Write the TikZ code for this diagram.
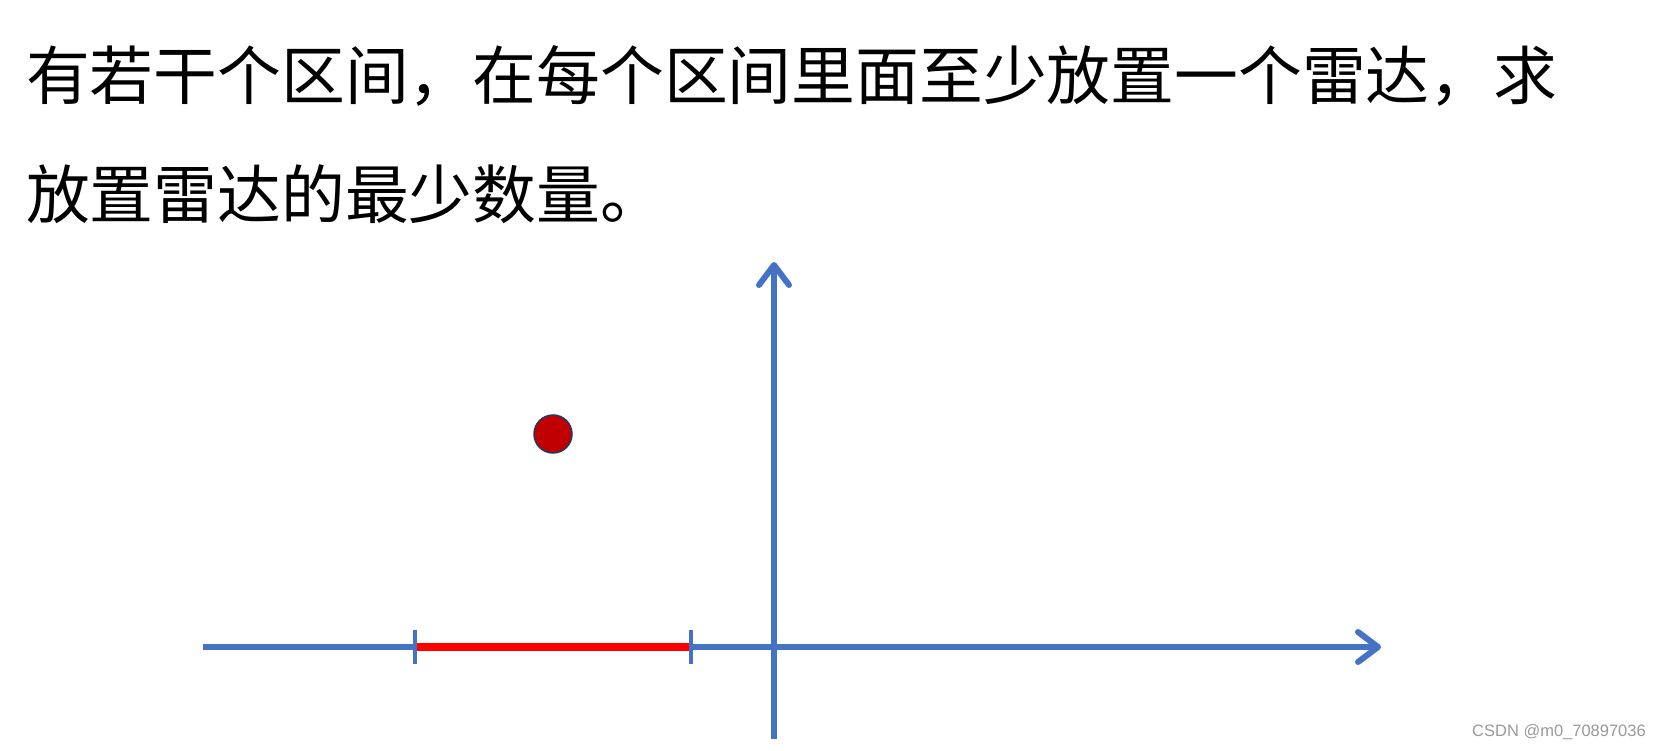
\documentclass[tikz,border=0pt]{standalone}
\usepackage{fontspec}
\newfontfamily\cjk{Noto Sans CJK SC}
\newfontfamily\marksans{Liberation Sans}
\usetikzlibrary{arrows.meta}
\definecolor{axisblue}{HTML}{4472C4}
\definecolor{radarred}{HTML}{C00000}
\definecolor{radarrim}{HTML}{203864}
\tikzset{
	axis/.style={-{Straight Barb[length=20pt,width=30pt,line cap=round,round]},color=axisblue,line width=6pt},
	tick/.style={color=axisblue,line width=3.5pt},
	segment/.style={color=red,line width=7.5pt},
	radar/.style={circle,fill=radarred,draw=radarrim,line width=1.5pt,minimum size=38pt,inner sep=0},
	question/.style={anchor=west,inner sep=0,font=\cjk\fontsize{63.8}{63.8}\selectfont},
	watermark/.style={anchor=east,inner sep=0,text=black!40,font=\marksans\fontsize{16.5}{16.5}\selectfont}
}
\begin{document}
\begin{tikzpicture}[x=1pt,y=-1pt]
	\useasboundingbox (0,0) rectangle (1662,751);
	%%%% question text
	\node[question] (q1) at (26,76) {有若干个区间，在每个区间里面至少放置一个雷达，求};
	\node[question] (q2) at (26,194) {放置雷达的最少数量。};
	
	%%%% axes
	\coordinate (xl) at (203,647);
	\coordinate (xr) at (1381,647);
	\coordinate (yb) at (774,739);
	\coordinate (yt) at (774,262);
	\draw[axis] (xl) -- (xr);
	\draw[axis] (yb) -- (yt);
	
	%%%% interval
	\coordinate (a) at (415,647);
	\coordinate (b) at (691,647);
	\draw[segment] (a) -- (b);
	\draw[tick] ([yshift=-17pt]a) -- ([yshift=17pt]a);
	\draw[tick] ([yshift=-17pt]b) -- ([yshift=17pt]b);
	
	%%%% radar
	\node[radar] (r) at (553,434) {};
	
	\node[watermark] (wm) at (1646,732) {CSDN @m0\_70897036};
\end{tikzpicture}
\end{document}
